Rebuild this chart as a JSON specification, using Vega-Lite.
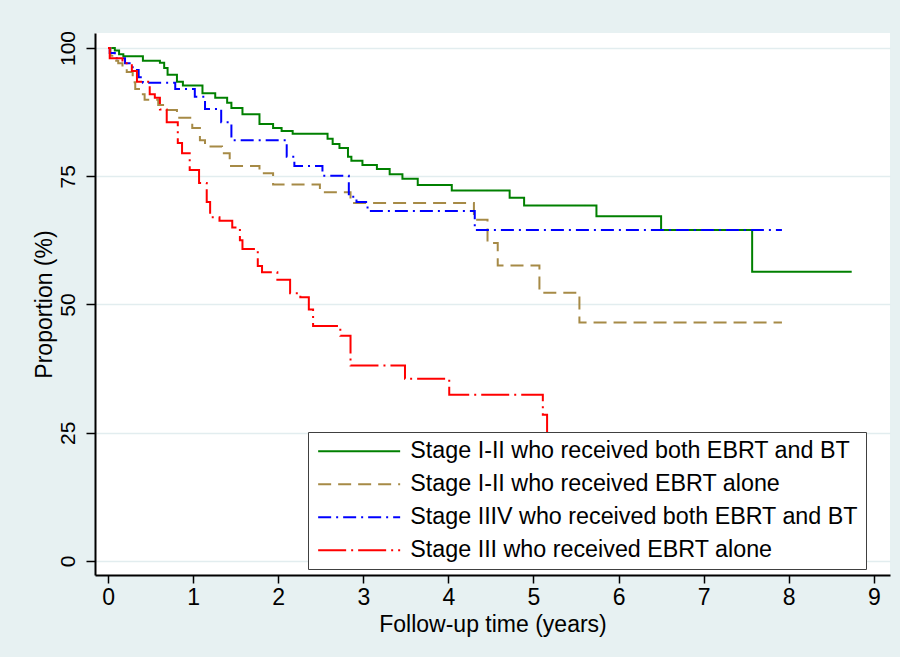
{
  "$schema": "https://vega.github.io/schema/vega-lite/v6.json",
  "width": 795,
  "height": 542,
  "autosize": {"type": "none"},
  "padding": {"left": 95, "top": 33, "right": 10, "bottom": 82},
  "background": "#E7F1F2",
  "config": {
    "view": {"fill": "white", "stroke": null},
    "axis": {
      "domainColor": "black",
      "domainWidth": 2,
      "tickColor": "black",
      "tickWidth": 1.5,
      "labelColor": "black",
      "titleColor": "black",
      "titleFontWeight": "normal",
      "gridColor": "#E2EDEF",
      "gridWidth": 1.5,
      "labelFont": "Liberation Sans, Arial, sans-serif",
      "titleFont": "Liberation Sans, Arial, sans-serif",
      "titleFontSize": 23,
      "labelOverlap": false,
      "labelFlush": false
    }
  },
  "data": {
    "values": [
      {"group": "Stage I-II who received both EBRT and BT", "t": 0, "s": 100},
      {"group": "Stage I-II who received both EBRT and BT", "t": 0.08, "s": 99.5},
      {"group": "Stage I-II who received both EBRT and BT", "t": 0.13, "s": 98.8},
      {"group": "Stage I-II who received both EBRT and BT", "t": 0.18, "s": 98.4},
      {"group": "Stage I-II who received both EBRT and BT", "t": 0.41, "s": 97.5},
      {"group": "Stage I-II who received both EBRT and BT", "t": 0.61, "s": 97.1},
      {"group": "Stage I-II who received both EBRT and BT", "t": 0.66, "s": 96.1},
      {"group": "Stage I-II who received both EBRT and BT", "t": 0.70, "s": 94.8},
      {"group": "Stage I-II who received both EBRT and BT", "t": 0.81, "s": 93.4},
      {"group": "Stage I-II who received both EBRT and BT", "t": 0.88, "s": 92.7},
      {"group": "Stage I-II who received both EBRT and BT", "t": 1.11, "s": 91.2},
      {"group": "Stage I-II who received both EBRT and BT", "t": 1.26, "s": 90.3},
      {"group": "Stage I-II who received both EBRT and BT", "t": 1.40, "s": 89.3},
      {"group": "Stage I-II who received both EBRT and BT", "t": 1.45, "s": 88.3},
      {"group": "Stage I-II who received both EBRT and BT", "t": 1.58, "s": 87.1},
      {"group": "Stage I-II who received both EBRT and BT", "t": 1.78, "s": 85.2},
      {"group": "Stage I-II who received both EBRT and BT", "t": 1.94, "s": 84.4},
      {"group": "Stage I-II who received both EBRT and BT", "t": 2.04, "s": 83.8},
      {"group": "Stage I-II who received both EBRT and BT", "t": 2.17, "s": 83.3},
      {"group": "Stage I-II who received both EBRT and BT", "t": 2.58, "s": 82.3},
      {"group": "Stage I-II who received both EBRT and BT", "t": 2.64, "s": 81.3},
      {"group": "Stage I-II who received both EBRT and BT", "t": 2.72, "s": 80.5},
      {"group": "Stage I-II who received both EBRT and BT", "t": 2.82, "s": 78.8},
      {"group": "Stage I-II who received both EBRT and BT", "t": 2.86, "s": 78.0},
      {"group": "Stage I-II who received both EBRT and BT", "t": 2.99, "s": 77.2},
      {"group": "Stage I-II who received both EBRT and BT", "t": 3.16, "s": 76.4},
      {"group": "Stage I-II who received both EBRT and BT", "t": 3.31, "s": 75.4},
      {"group": "Stage I-II who received both EBRT and BT", "t": 3.46, "s": 74.5},
      {"group": "Stage I-II who received both EBRT and BT", "t": 3.64, "s": 73.3},
      {"group": "Stage I-II who received both EBRT and BT", "t": 4.04, "s": 72.2},
      {"group": "Stage I-II who received both EBRT and BT", "t": 4.72, "s": 70.8},
      {"group": "Stage I-II who received both EBRT and BT", "t": 4.89, "s": 69.3},
      {"group": "Stage I-II who received both EBRT and BT", "t": 5.74, "s": 67.2},
      {"group": "Stage I-II who received both EBRT and BT", "t": 6.50, "s": 64.5},
      {"group": "Stage I-II who received both EBRT and BT", "t": 7.57, "s": 56.4},
      {"group": "Stage I-II who received both EBRT and BT", "t": 8.74, "s": 56.4},

      {"group": "Stage I-II who received EBRT alone", "t": 0, "s": 100},
      {"group": "Stage I-II who received EBRT alone", "t": 0.03, "s": 98.5},
      {"group": "Stage I-II who received EBRT alone", "t": 0.07, "s": 97.5},
      {"group": "Stage I-II who received EBRT alone", "t": 0.12, "s": 97.0},
      {"group": "Stage I-II who received EBRT alone", "t": 0.17, "s": 96.0},
      {"group": "Stage I-II who received EBRT alone", "t": 0.22, "s": 95.3},
      {"group": "Stage I-II who received EBRT alone", "t": 0.29, "s": 93.3},
      {"group": "Stage I-II who received EBRT alone", "t": 0.32, "s": 92.0},
      {"group": "Stage I-II who received EBRT alone", "t": 0.38, "s": 91.0},
      {"group": "Stage I-II who received EBRT alone", "t": 0.43, "s": 89.9},
      {"group": "Stage I-II who received EBRT alone", "t": 0.59, "s": 88.9},
      {"group": "Stage I-II who received EBRT alone", "t": 0.69, "s": 87.9},
      {"group": "Stage I-II who received EBRT alone", "t": 0.81, "s": 86.4},
      {"group": "Stage I-II who received EBRT alone", "t": 0.99, "s": 84.4},
      {"group": "Stage I-II who received EBRT alone", "t": 1.08, "s": 82.0},
      {"group": "Stage I-II who received EBRT alone", "t": 1.14, "s": 80.8},
      {"group": "Stage I-II who received EBRT alone", "t": 1.34, "s": 79.5},
      {"group": "Stage I-II who received EBRT alone", "t": 1.43, "s": 77.0},
      {"group": "Stage I-II who received EBRT alone", "t": 1.78, "s": 75.6},
      {"group": "Stage I-II who received EBRT alone", "t": 1.94, "s": 73.4},
      {"group": "Stage I-II who received EBRT alone", "t": 2.49, "s": 71.9},
      {"group": "Stage I-II who received EBRT alone", "t": 2.85, "s": 69.8},
      {"group": "Stage I-II who received EBRT alone", "t": 4.30, "s": 66.5},
      {"group": "Stage I-II who received EBRT alone", "t": 4.46, "s": 62.0},
      {"group": "Stage I-II who received EBRT alone", "t": 4.58, "s": 57.6},
      {"group": "Stage I-II who received EBRT alone", "t": 5.07, "s": 52.3},
      {"group": "Stage I-II who received EBRT alone", "t": 5.54, "s": 46.5},
      {"group": "Stage I-II who received EBRT alone", "t": 7.92, "s": 46.5},

      {"group": "Stage IIIV who received both EBRT and BT", "t": 0, "s": 100},
      {"group": "Stage IIIV who received both EBRT and BT", "t": 0.02, "s": 99.0},
      {"group": "Stage IIIV who received both EBRT and BT", "t": 0.08, "s": 98.0},
      {"group": "Stage IIIV who received both EBRT and BT", "t": 0.20, "s": 97.0},
      {"group": "Stage IIIV who received both EBRT and BT", "t": 0.29, "s": 95.7},
      {"group": "Stage IIIV who received both EBRT and BT", "t": 0.36, "s": 94.3},
      {"group": "Stage IIIV who received both EBRT and BT", "t": 0.41, "s": 93.2},
      {"group": "Stage IIIV who received both EBRT and BT", "t": 0.79, "s": 92.0},
      {"group": "Stage IIIV who received both EBRT and BT", "t": 1.02, "s": 90.5},
      {"group": "Stage IIIV who received both EBRT and BT", "t": 1.14, "s": 88.1},
      {"group": "Stage IIIV who received both EBRT and BT", "t": 1.33, "s": 85.5},
      {"group": "Stage IIIV who received both EBRT and BT", "t": 1.45, "s": 82.0},
      {"group": "Stage IIIV who received both EBRT and BT", "t": 2.10, "s": 78.8},
      {"group": "Stage IIIV who received both EBRT and BT", "t": 2.19, "s": 77.0},
      {"group": "Stage IIIV who received both EBRT and BT", "t": 2.52, "s": 75.1},
      {"group": "Stage IIIV who received both EBRT and BT", "t": 2.83, "s": 71.0},
      {"group": "Stage IIIV who received both EBRT and BT", "t": 2.92, "s": 70.0},
      {"group": "Stage IIIV who received both EBRT and BT", "t": 3.05, "s": 68.2},
      {"group": "Stage IIIV who received both EBRT and BT", "t": 4.31, "s": 64.5},
      {"group": "Stage IIIV who received both EBRT and BT", "t": 7.92, "s": 64.5},

      {"group": "Stage III who received EBRT alone", "t": 0, "s": 100},
      {"group": "Stage III who received EBRT alone", "t": 0.02, "s": 98.0},
      {"group": "Stage III who received EBRT alone", "t": 0.17, "s": 97.0},
      {"group": "Stage III who received EBRT alone", "t": 0.28, "s": 95.5},
      {"group": "Stage III who received EBRT alone", "t": 0.34, "s": 93.4},
      {"group": "Stage III who received EBRT alone", "t": 0.49, "s": 91.0},
      {"group": "Stage III who received EBRT alone", "t": 0.55, "s": 90.3},
      {"group": "Stage III who received EBRT alone", "t": 0.61, "s": 88.0},
      {"group": "Stage III who received EBRT alone", "t": 0.69, "s": 85.5},
      {"group": "Stage III who received EBRT alone", "t": 0.82, "s": 81.5},
      {"group": "Stage III who received EBRT alone", "t": 0.87, "s": 79.5},
      {"group": "Stage III who received EBRT alone", "t": 0.96, "s": 76.2},
      {"group": "Stage III who received EBRT alone", "t": 1.07, "s": 73.7},
      {"group": "Stage III who received EBRT alone", "t": 1.16, "s": 70.0},
      {"group": "Stage III who received EBRT alone", "t": 1.20, "s": 67.0},
      {"group": "Stage III who received EBRT alone", "t": 1.31, "s": 66.3},
      {"group": "Stage III who received EBRT alone", "t": 1.46, "s": 65.0},
      {"group": "Stage III who received EBRT alone", "t": 1.55, "s": 62.5},
      {"group": "Stage III who received EBRT alone", "t": 1.58, "s": 60.8},
      {"group": "Stage III who received EBRT alone", "t": 1.76, "s": 57.5},
      {"group": "Stage III who received EBRT alone", "t": 1.81, "s": 56.3},
      {"group": "Stage III who received EBRT alone", "t": 1.99, "s": 54.8},
      {"group": "Stage III who received EBRT alone", "t": 2.14, "s": 52.2},
      {"group": "Stage III who received EBRT alone", "t": 2.26, "s": 51.4},
      {"group": "Stage III who received EBRT alone", "t": 2.36, "s": 49.0},
      {"group": "Stage III who received EBRT alone", "t": 2.41, "s": 45.8},
      {"group": "Stage III who received EBRT alone", "t": 2.73, "s": 43.9},
      {"group": "Stage III who received EBRT alone", "t": 2.85, "s": 38.1},
      {"group": "Stage III who received EBRT alone", "t": 3.49, "s": 35.5},
      {"group": "Stage III who received EBRT alone", "t": 4.01, "s": 32.4},
      {"group": "Stage III who received EBRT alone", "t": 5.11, "s": 28.5},
      {"group": "Stage III who received EBRT alone", "t": 5.16, "s": 22.0}
    ]
  },
  "mark": {"type": "line", "interpolate": "step-after", "strokeWidth": 2, "clip": true},
  "encoding": {
    "x": {
      "field": "t",
      "type": "quantitative",
      "scale": {"domain": [-0.153, 9.19], "nice": false, "zero": false},
      "axis": {
        "values": [0, 1, 2, 3, 4, 5, 6, 7, 8, 9],
        "title": "Follow-up time (years)",
        "grid": false,
        "tickSize": 8,
        "labelFontSize": 23,
        "labelPadding": 3,
        "titlePadding": 4
      }
    },
    "y": {
      "field": "s",
      "type": "quantitative",
      "scale": {"domain": [-2.73, 102.92], "nice": false, "zero": false},
      "axis": {
        "values": [0, 25, 50, 75, 100],
        "title": "Proportion (%)",
        "grid": true,
        "tickSize": 9,
        "labelAngle": 270,
        "labelFontSize": 21,
        "labelPadding": 8,
        "titlePadding": 1
      }
    },
    "color": {
      "field": "group",
      "type": "nominal",
      "scale": {
        "domain": ["Stage I-II who received both EBRT and BT", "Stage I-II who received EBRT alone", "Stage IIIV who received both EBRT and BT", "Stage III who received EBRT alone"],
        "range": ["#008000", "#A68A46", "#0000FF", "#FF0000"]
      },
      "legend": {
        "title": null,
        "orient": "none",
        "legendX": 213,
        "legendY": 399,
        "symbolType": "M-4.5,0H36.5",
        "symbolSize": 16,
        "symbolStrokeWidth": 2,
        "labelOffset": 71.5,
        "labelFont": "Liberation Sans, Arial, sans-serif",
        "labelFontSize": 23.3,
        "labelColor": "black",
        "labelLimit": 700,
        "rowPadding": 9,
        "padding": 7.5,
        "fillColor": "white",
        "strokeColor": "#404040"
      }
    },
    "strokeDash": {
      "field": "group",
      "type": "nominal",
      "scale": {
        "domain": ["Stage I-II who received both EBRT and BT", "Stage I-II who received EBRT alone", "Stage IIIV who received both EBRT and BT", "Stage III who received EBRT alone"],
        "range": [[1, 0], [13, 7], [13, 5, 2, 5], [28, 5, 2, 5]]
      },
      "legend": {
        "title": null,
        "orient": "none",
        "legendX": 213,
        "legendY": 399,
        "symbolType": "M-4.5,0H36.5",
        "symbolSize": 16,
        "symbolStrokeWidth": 2,
        "labelOffset": 71.5,
        "labelFont": "Liberation Sans, Arial, sans-serif",
        "labelFontSize": 23.3,
        "labelColor": "black",
        "labelLimit": 700,
        "rowPadding": 9,
        "padding": 7.5,
        "fillColor": "white",
        "strokeColor": "#404040"
      }
    }
  }
}
